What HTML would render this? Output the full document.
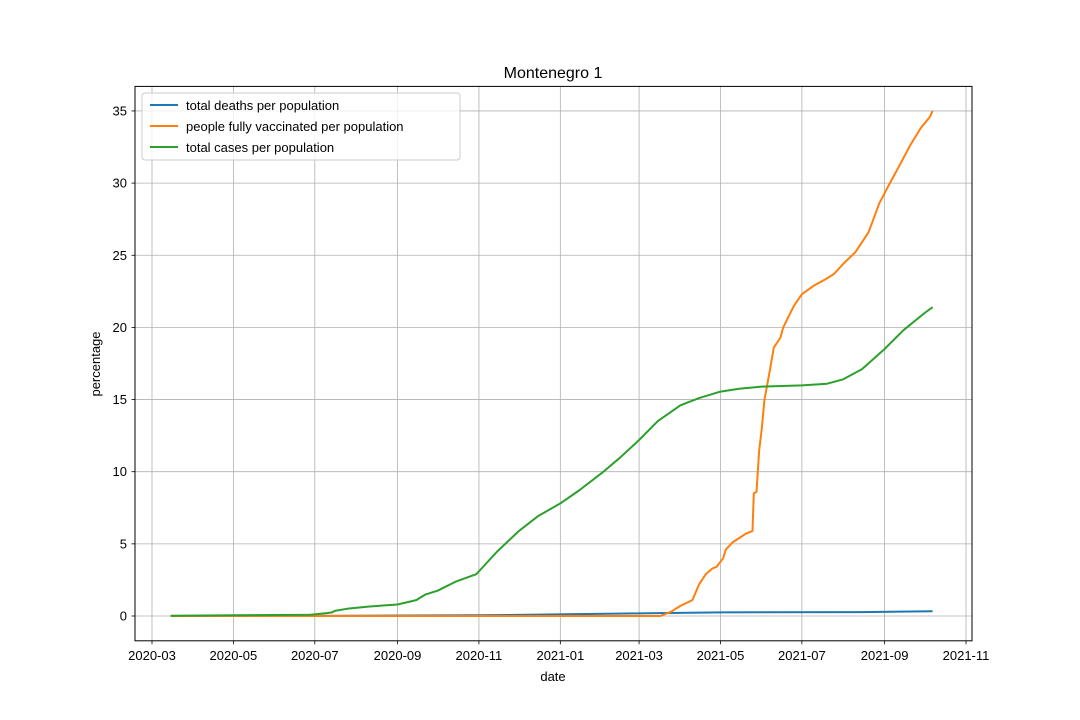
<!DOCTYPE html>
<html><head><meta charset="utf-8"><style>
body{margin:0;background:#fff;}
svg{display:block;font-family:"Liberation Sans","DejaVu Sans",sans-serif;}
</style></head><body>
<svg id="chart" width="1080" height="720" xmlns="http://www.w3.org/2000/svg">
<rect width="1080" height="720" fill="#fff"/>
<text x="553" y="78" text-anchor="middle" font-size="16">Montenegro 1</text>
<g id="grid"></g>
<g id="series"></g>
<rect x="135" y="86.4" width="837" height="554.4" fill="none" stroke="#000" stroke-width="1"/>
<g id="ticks"></g>
<text x="553" y="681" text-anchor="middle" font-size="13">date</text>
<text x="100" y="364" text-anchor="middle" font-size="13" transform="rotate(-90 100 364)">percentage</text>
<g>
<rect x="142" y="93" width="318" height="67" fill="#fff" fill-opacity="0.8" stroke="#ccc" rx="3"/>
<line x1="150" y1="105" x2="178" y2="105" stroke="#1f77b4" stroke-width="2"/>
<text x="186" y="110" font-size="13">total deaths per population</text>
<line x1="150" y1="126" x2="178" y2="126" stroke="#ff7f0e" stroke-width="2"/>
<text x="186" y="131" font-size="13">people fully vaccinated per population</text>
<line x1="150" y1="147" x2="178" y2="147" stroke="#2ca02c" stroke-width="2"/>
<text x="186" y="152" font-size="13">total cases per population</text>
</g>
</svg>
<script>
const xTickLabels=["2020-03","2020-05","2020-07","2020-09","2020-11","2021-01","2021-03","2021-05","2021-07","2021-09","2021-11"];
const yTickValues=[0,5,10,15,20,25,30,35];
const deathDates=["2020-03-15","2020-07-01","2020-11-01","2021-03-01","2021-05-01","2021-08-15","2021-10-07"];
const deathValues=[0,0.01,0.05,0.18,0.25,0.27,0.33];
const vaxDates=["2020-03-15","2021-03-17","2021-03-25","2021-04-01","2021-04-10","2021-04-15","2021-04-20","2021-04-25","2021-04-28","2021-05-03","2021-05-05","2021-05-10","2021-05-15","2021-05-20","2021-05-25","2021-05-26","2021-05-28","2021-05-30","2021-06-01","2021-06-03","2021-06-07","2021-06-10","2021-06-15","2021-06-17","2021-06-25","2021-07-01","2021-07-10","2021-07-18","2021-07-25","2021-08-01","2021-08-10","2021-08-20","2021-08-28","2021-09-05","2021-09-12","2021-09-20","2021-09-28","2021-10-05","2021-10-07"];
const vaxValues=[0,0,0.3,0.7,1.1,2.2,2.9,3.3,3.4,4.0,4.6,5.1,5.4,5.7,5.9,8.5,8.6,11.5,13.0,15.0,17.0,18.6,19.3,20.0,21.5,22.3,22.9,23.3,23.7,24.4,25.2,26.6,28.6,30.0,31.2,32.6,33.8,34.6,35.0];
const caseDates=["2020-03-15","2020-05-01","2020-06-28","2020-07-10","2020-07-14","2020-07-16","2020-07-25","2020-08-10","2020-09-01","2020-09-15","2020-09-22","2020-10-01","2020-10-15","2020-10-30","2020-11-05","2020-11-15","2020-12-01","2020-12-15","2021-01-01","2021-01-15","2021-02-01","2021-02-15","2021-03-01","2021-03-15","2021-04-01","2021-04-15","2021-05-01","2021-05-15","2021-06-01","2021-07-01","2021-07-20","2021-08-01","2021-08-15","2021-09-01","2021-09-15","2021-10-01","2021-10-07"];
const caseValues=[0.02,0.05,0.08,0.2,0.25,0.35,0.5,0.65,0.8,1.1,1.5,1.75,2.4,2.9,3.5,4.5,5.9,6.9,7.8,8.7,9.9,11.0,12.2,13.5,14.6,15.1,15.55,15.75,15.9,15.98,16.1,16.4,17.1,18.5,19.8,21.0,21.4];

const NS="http://www.w3.org/2000/svg";
const t0=Date.UTC(2020,2,1), t1=Date.UTC(2021,10,1);
function xScale(d){const p=d.split("-").map(Number);const t=Date.UTC(p[0],p[1]-1,p[2]||1);return 152+(t-t0)/(t1-t0)*814;}
function yScale(v){return 616-v*14.43;}
function mk(tag,attrs,parent){const e=document.createElementNS(NS,tag);for(const k in attrs)e.setAttribute(k,attrs[k]);parent.appendChild(e);return e;}
const grid=document.getElementById("grid"),ticks=document.getElementById("ticks"),series=document.getElementById("series");
xTickLabels.forEach(l=>{const x=xScale(l);
 const g=mk("line",{x1:x,x2:x,y1:86.4,y2:640.8,stroke:"#b0b0b0","stroke-width":0.8},grid);
 
 
 mk("line",{x1:x,x2:x,y1:640.8,y2:644.3,stroke:"#000","stroke-width":0.8},ticks);
 const t=mk("text",{x:x,y:660,"text-anchor":"middle","font-size":13},ticks);t.textContent=l;
 
 
});
yTickValues.forEach(v=>{const y=yScale(v);
 const g=mk("line",{x1:135,x2:972,y1:y,y2:y,stroke:"#b0b0b0","stroke-width":0.8},grid);
 
 
 mk("line",{x1:131.5,x2:135,y1:y,y2:y,stroke:"#000","stroke-width":0.8},ticks);
 const t=mk("text",{x:127,y:y+4.5,"text-anchor":"end","font-size":13},ticks);t.textContent=v;
 
 
});
function line(dates,vals,color,name){
 const d=dates.map((dt,i)=>(i?"L":"M")+xScale(dt).toFixed(1)+","+yScale(vals[i]).toFixed(1)).join("");
 const p=mk("path",{d:d,fill:"none",stroke:color,"stroke-width":2,"stroke-linejoin":"round"},series);
 
 
}
line(deathDates,deathValues,"#1f77b4","deaths-line");
line(vaxDates,vaxValues,"#ff7f0e","vaccinated-line");
line(caseDates,caseValues,"#2ca02c","cases-line");
</script>
</body></html>
